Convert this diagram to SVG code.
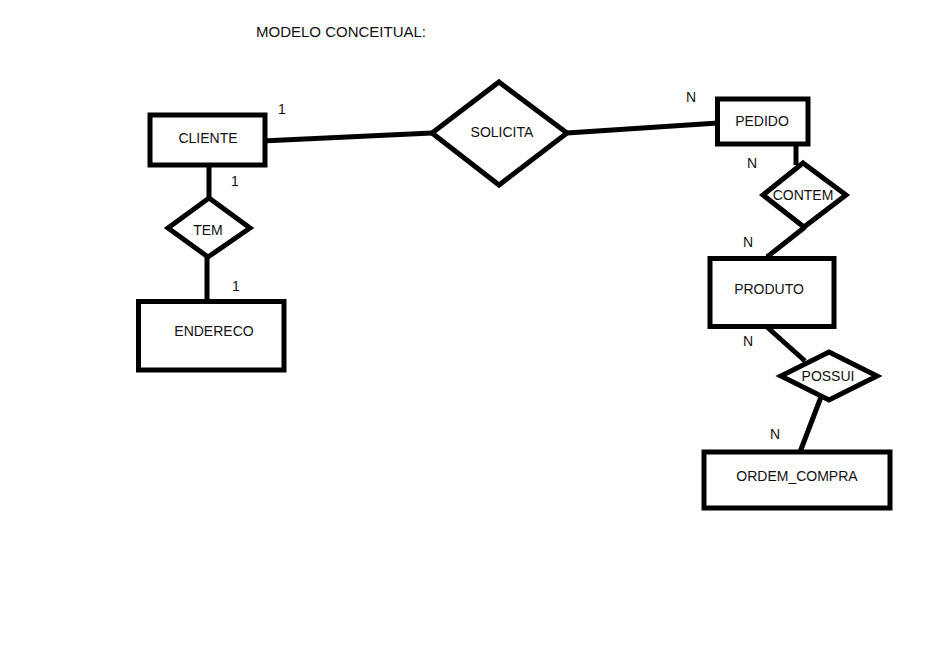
<svg xmlns="http://www.w3.org/2000/svg" width="941" height="672" viewBox="0 0 941 672">
<style>
.shape{fill:#fff;stroke:#000;stroke-width:5;stroke-linejoin:miter}
.conn line{stroke:#000;stroke-width:5;stroke-linecap:butt}
text{font-family:"Liberation Sans",Arial,sans-serif;font-size:14px;fill:#111;text-anchor:middle;dominant-baseline:central}
.title{font-size:15px}
</style>
<rect width="941" height="672" fill="#fff"/>
<text class="title" x="341" y="31">MODELO CONCEITUAL:</text>
<g id="connectors" class="conn">
<line x1="262" y1="141" x2="432" y2="133"/>
<line x1="567" y1="133" x2="718" y2="123"/>
<line x1="209" y1="164" x2="209" y2="198"/>
<line x1="207" y1="257" x2="207" y2="303"/>
<line x1="796" y1="144" x2="796" y2="165"/>
<line x1="805" y1="227" x2="767" y2="257"/>
<line x1="767" y1="327" x2="805" y2="361"/>
<line x1="821" y1="397" x2="800" y2="452"/>
</g>
<g id="CLIENTE"><rect class="shape" x="150" y="115" width="115" height="50"/><text x="208" y="138">CLIENTE</text></g>
<g id="ENDERECO"><rect class="shape" x="138.5" y="301.5" width="145.5" height="68.5"/><text x="214" y="331">ENDERECO</text></g>
<g id="SOLICITA"><polygon class="shape" points="499,82 567,133 499,185 432,133"/><text x="502" y="132">SOLICITA</text></g>
<g id="TEM"><polygon class="shape" points="209,198 250,228 208,257 168,228"/><text x="208" y="230">TEM</text></g>
<g id="PEDIDO"><rect class="shape" x="717.5" y="99" width="90.5" height="45"/><text x="762" y="121">PEDIDO</text></g>
<g id="CONTEM"><polygon class="shape" points="803,163 846,195 804,227 763,195"/><text x="803" y="195">CONTEM</text></g>
<g id="PRODUTO"><rect class="shape" x="710" y="258.5" width="124" height="68"/><text x="769" y="289">PRODUTO</text></g>
<g id="POSSUI"><polygon class="shape" points="829,352 877,376 829,400 781,376"/><text x="828" y="376">POSSUI</text></g>
<g id="ORDEM_COMPRA"><rect class="shape" x="704" y="452" width="186" height="56"/><text x="797" y="476">ORDEM_COMPRA</text></g>
<g id="labels">
<text x="282" y="109">1</text>
<text x="235" y="181">1</text>
<text x="236" y="286">1</text>
<text x="691" y="97">N</text>
<text x="752" y="163">N</text>
<text x="748" y="242">N</text>
<text x="748" y="341">N</text>
<text x="775" y="434">N</text>
</g>
</svg>
